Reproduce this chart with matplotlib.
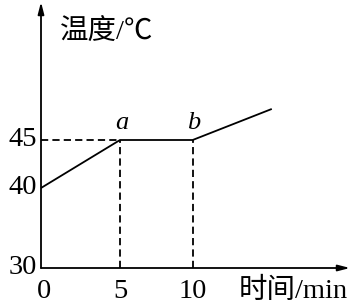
import matplotlib
matplotlib.use("Agg")
import matplotlib.pyplot as plt
import numpy as np

# heating curve: time (min) vs temperature (C)
time_min = [0, 5, 10, 15.4]
temp_c = [40, 45, 45, 48.2]
x_ticks = [0, 5, 10]
y_ticks = [30, 40, 45]
point_names = ["a", "b"]
point_x = [5, 10]
point_y = [45, 45]

# the hand-drawn axes are not evenly spaced, so map values piecewise to pixels
X_VAL = [-10, 0, 5, 10, 40]
X_PIX = [-157, 0, 78.5, 150.7, 150.7 + 30 * 14.4]
Y_VAL = [20, 30, 40, 45, 80]
Y_PIX = [-80, 0, 80, 128, 128 + 35 * 9.6]


def x_fwd(v):
    return np.interp(v, X_VAL, X_PIX)


def x_inv(p):
    return np.interp(p, X_PIX, X_VAL)


def y_fwd(v):
    return np.interp(v, Y_VAL, Y_PIX)


def y_inv(p):
    return np.interp(p, Y_PIX, Y_VAL)


serif = "Liberation Serif"
mixed = ["Liberation Serif", "Noto Sans CJK SC"]

fig = plt.figure(figsize=(3.5, 3.08), dpi=100)
W, H = 350, 308
ox, oy = 41, 268
ax = fig.add_axes([ox / W, (H - oy) / H, (W - ox) / W, (oy - 2) / H])
ax.set_xscale("function", functions=(x_fwd, x_inv))
ax.set_yscale("function", functions=(y_fwd, y_inv))
ax.set_xlim(0, x_inv(W - ox - 2))
ax.set_ylim(30, y_inv(oy - 2))
ax.axis("off")

lw = 1.3
ax.plot(time_min, temp_c, color="black", lw=lw, solid_joinstyle="miter")
dash = (0, (4, 2.3))
ax.plot([0, point_x[0]], [point_y[0], point_y[0]], color="black", lw=lw, linestyle=dash)
for px, py in zip(point_x, point_y):
    ax.plot([px, px], [30, py], color="black", lw=lw, linestyle=dash)

for name, px, py in zip(point_names, point_x, point_y):
    ax.annotate(name, (px, py), xytext=(1, 4), textcoords="offset points",
                ha="center", va="bottom", fontsize=19, family=serif, style="italic")

# axes with arrow heads
arrow = dict(arrowstyle="-|>,head_length=0.7,head_width=0.18", color="black", lw=lw,
             shrinkA=0, shrinkB=0)
ax.annotate("", xy=(1.0, 0), xytext=(0, 0), xycoords="axes fraction", arrowprops=arrow)
ax.annotate("", xy=(0, 1.0), xytext=(0, 0), xycoords="axes fraction", arrowprops=arrow)

for v in y_ticks:
    ax.annotate(str(v), (0, v), xytext=(-3, 0), textcoords="offset points",
                ha="right", va="center", fontsize=20.5, family=serif)
for v in x_ticks:
    ax.annotate(str(v), (v, 30), xytext=(2 if v == 0 else 0, -8), textcoords="offset points",
                ha="center", va="top", fontsize=20.5, family=serif)

ax.text(60 / W, (H - 33) / H, "温度/℃", transform=fig.transFigure, ha="left", va="center",
        fontsize=20.5, family=mixed)
ax.text(348 / W, (H - 291) / H, "时间/min", transform=fig.transFigure, ha="right", va="center",
        fontsize=20.5, family=mixed)

fig.savefig("out.png", dpi=100)
